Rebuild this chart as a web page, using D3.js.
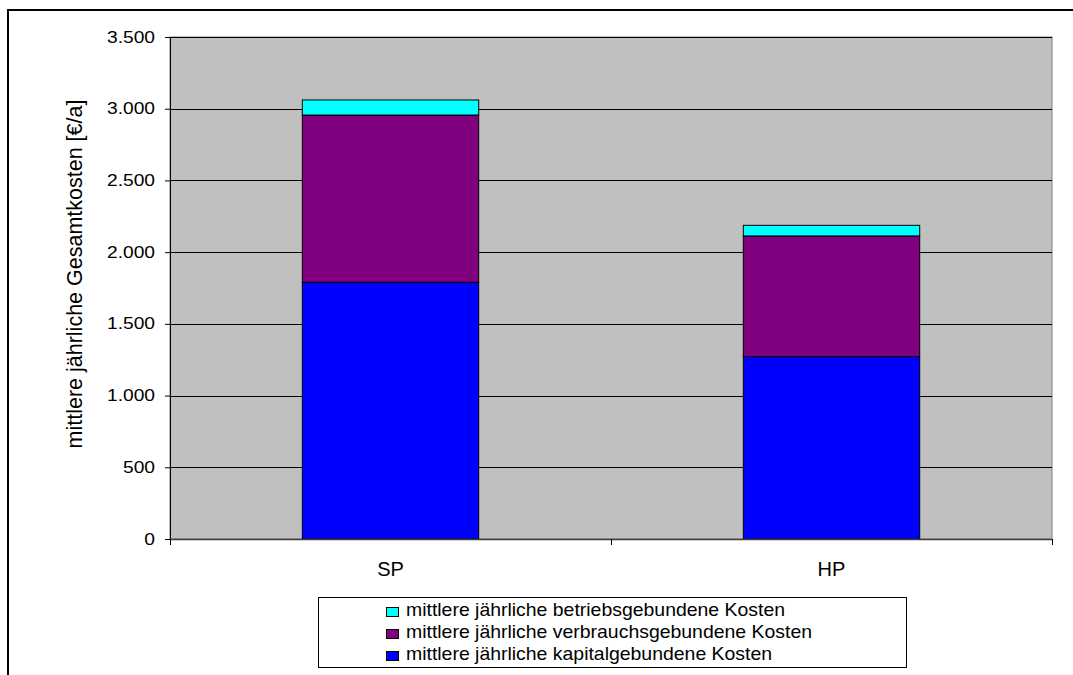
<!DOCTYPE html>
<html>
<head>
<meta charset="utf-8">
<script src="https://cdn.jsdelivr.net/npm/d3@7"></script>
<style>
  html, body { margin: 0; padding: 0; background: #fff; }
  svg { display: block; font-family: "Liberation Sans", Arial, sans-serif; }
</style>
</head>
<body>
<svg id="chart" width="1073" height="675"></svg>
<script>
// Categories and cost components (€/a)
const categories = ["SP", "HP"];
const kapitalKosten = [1790, 1271];
const verbrauchsKosten = [1166, 842];
const betriebsKosten = [105, 74];
const yTicks = [0, 500, 1000, 1500, 2000, 2500, 3000, 3500];
const seriesNames = [
  "mittlere jährliche kapitalgebundene Kosten",
  "mittlere jährliche verbrauchsgebundene Kosten",
  "mittlere jährliche betriebsgebundene Kosten"
];
const seriesColors = ["#0000ff", "#800080", "#00ffff"];
const yTitle = "mittlere jährliche Gesamtkosten [€/a]";

const svg = d3.select("#chart");
const plot = { left: 170, right: 1052, top: 37, bottom: 539 };

// Outer frame
svg.append("rect")
  .attr("x", 8).attr("y", 10)
  .attr("width", 1100).attr("height", 700)
  .attr("fill", "none").attr("stroke", "#000").attr("stroke-width", 2);

const x = d3.scaleBand()
  .domain(categories)
  .range([plot.left, plot.right])
  .paddingInner(0.6)
  .paddingOuter(0.3);

const y = d3.scaleLinear()
  .domain([0, 3500])
  .range([plot.bottom, plot.top]);

const fmt = v => d3.format(",")(v).replace(/,/g, ".");

// Plot background
svg.append("rect")
  .attr("x", plot.left).attr("y", plot.top)
  .attr("width", plot.right - plot.left).attr("height", plot.bottom - plot.top)
  .attr("fill", "#c0c0c0").attr("stroke", "#808080").attr("stroke-width", 1);

// Gridlines
svg.append("g")
  .selectAll("line")
  .data(yTicks.filter(t => t > 0))
  .join("line")
  .attr("x1", plot.left).attr("x2", plot.right)
  .attr("y1", d => Math.round(y(d)) + 0.5).attr("y2", d => Math.round(y(d)) + 0.5)
  .attr("stroke", "#000").attr("stroke-width", 1);

// Stacked bars
const rows = categories.map((c, i) => ({
  cat: c, kapital: kapitalKosten[i], verbrauch: verbrauchsKosten[i], betrieb: betriebsKosten[i]
}));
const stack = d3.stack().keys(["kapital", "verbrauch", "betrieb"])(rows);

svg.append("g")
  .selectAll("g")
  .data(stack)
  .join("g")
  .attr("fill", (d, i) => seriesColors[i])
  .selectAll("rect")
  .data(d => d)
  .join("rect")
  .attr("x", d => x(d.data.cat))
  .attr("width", x.bandwidth())
  .attr("y", d => y(d[1]))
  .attr("height", d => y(d[0]) - y(d[1]))
  .attr("stroke", "#000").attr("stroke-width", 1);

// Y axis
const yAxis = svg.append("g")
  .attr("transform", `translate(${plot.left},0)`)
  .call(d3.axisLeft(y).tickValues(yTicks).tickFormat(fmt).tickSize(5).tickPadding(9));
yAxis.select(".domain").attr("stroke", "#000");
yAxis.selectAll(".tick line").attr("stroke", "#000");
yAxis.selectAll("text")
  .attr("x", 0)
  .attr("transform", "translate(-15,0) scale(1.2,1)")
  .attr("font-size", 16).attr("fill", "#000")
  .attr("font-family", "Liberation Sans, Arial, sans-serif");

// X axis
const xAxis = svg.append("g")
  .attr("transform", `translate(0,${plot.bottom})`);
xAxis.append("line")
  .attr("x1", plot.left).attr("x2", plot.right)
  .attr("y1", 0.5).attr("y2", 0.5)
  .attr("stroke", "#404040").attr("stroke-width", 1.5);
const xTickPos = [plot.left].concat(categories.map(c => x(c) + x.bandwidth() / 2 + x.step() / 2));
xAxis.selectAll("line.tk")
  .data(xTickPos)
  .join("line").attr("class", "tk")
  .attr("x1", d => Math.round(d) + 0.5).attr("x2", d => Math.round(d) + 0.5)
  .attr("y1", 0).attr("y2", 6)
  .attr("stroke", "#000");
xAxis.selectAll("text")
  .data(categories)
  .join("text")
  .attr("x", d => x(d) + x.bandwidth() / 2)
  .attr("y", 37)
  .attr("text-anchor", "middle")
  .attr("font-size", 20)
  .attr("fill", "#000")
  .text(d => d);

// Y axis title
svg.append("text")
  .attr("transform", `translate(82,274) rotate(-90)`)
  .attr("text-anchor", "middle")
  .attr("font-size", 21.5)
  .attr("fill", "#000")
  .text(yTitle);

// Legend
const legend = svg.append("g");
legend.append("rect")
  .attr("x", 318.5).attr("y", 597.5)
  .attr("width", 588).attr("height", 70)
  .attr("fill", "#fff").attr("stroke", "#000").attr("stroke-width", 1);
const legendOrder = [2, 1, 0];
const items = legend.selectAll("g.item")
  .data(legendOrder)
  .join("g").attr("class", "item")
  .attr("transform", (d, i) => `translate(386,${616 + i * 22})`);
items.append("rect")
  .attr("x", 0.5).attr("y", -8.5)
  .attr("width", 12).attr("height", 9)
  .attr("fill", d => seriesColors[d])
  .attr("stroke", "#000");
items.append("text")
  .attr("transform", "translate(20,0) scale(1.08,1)")
  .attr("font-size", 18)
  .attr("fill", "#000")
  .text(d => seriesNames[d]);
</script>
</body>
</html>
